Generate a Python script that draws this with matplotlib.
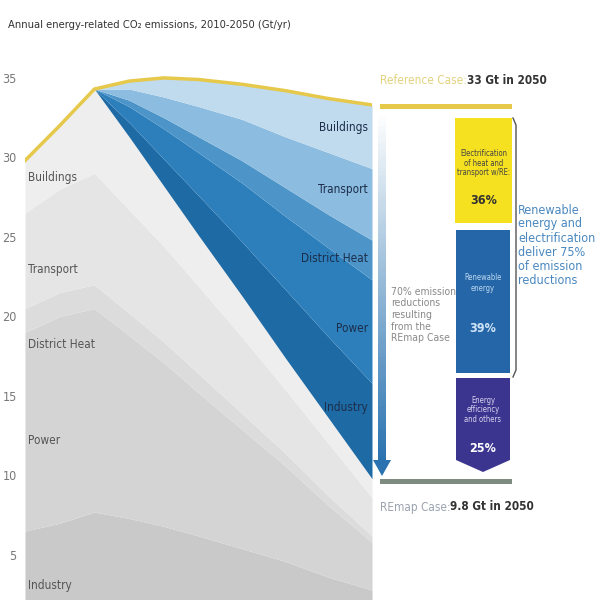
import matplotlib
matplotlib.use("Agg")
import matplotlib.pyplot as plt
import numpy as np
from matplotlib.patches import Rectangle, Polygon

plt.rcParams['font.family'] = ['DejaVu Sans']
plt.rcParams['font.stretch'] = 'condensed'

years = [2010, 2014, 2018, 2022, 2026, 2030, 2035, 2040, 2045, 2050]
reference = [29.8, 32.0, 34.3, 34.8, 35.0, 34.9, 34.6, 34.2, 33.7, 33.3]
gray_sectors = ["Industry", "Power", "District Heat", "Transport", "Buildings"]
gray_industry = [6.5, 7.0, 7.7, 7.3, 6.8, 6.2, 5.4, 4.6, 3.6, 2.8]
gray_power = [12.5, 13.0, 12.8, 11.5, 10.3, 9.0, 7.5, 6.0, 4.5, 3.0]
gray_dh = [1.5, 1.5, 1.5, 1.4, 1.3, 1.2, 1.0, 0.8, 0.6, 0.4]
gray_transport = [6.0, 6.5, 7.0, 6.5, 6.0, 5.5, 4.8, 4.0, 3.3, 2.4]
gray_buildings = [3.3, 4.0, 5.3, 4.6, 3.8, 3.2, 2.6, 2.0, 1.6, 1.2]
save_industry = [0, 0, 0, 0.9, 1.7, 2.5, 3.4, 4.3, 5.1, 6.0]
save_power = [0, 0, 0, 1.0, 1.9, 2.7, 3.7, 4.6, 5.6, 6.5]
save_dh = [0, 0, 0, 0.4, 0.7, 1.0, 1.4, 1.8, 2.1, 2.5]
save_transport = [0, 0, 0, 0.7, 1.3, 1.9, 2.6, 3.2, 3.9, 4.5]
save_buildings = [0, 0, 0, 0.5, 1.2, 1.7, 2.2, 2.9, 3.4, 4.0]
yticks = [5, 10, 15, 20, 25, 30, 35]

fig = plt.figure(figsize=(6, 6), dpi=100)
ax = fig.add_axes([25/600, 0, 347/600, 1])
ax.set_xlim(2010, 2050)
ax.set_ylim(2.17, 39.9)
for s in ax.spines.values():
    s.set_visible(False)
ax.set_xticks([])
ax.set_yticks(yticks)
ax.tick_params(axis='y', length=0, pad=6, labelsize=9, labelcolor='#777777')

gcols = ['#c9c9c9', '#d4d4d4', '#dcdcdc', '#e5e5e5', '#eeeeee']
bcols = ['#1e6aa5', '#2d7fbb', '#4d95c9', '#8cbde0', '#c0dbee']
base = np.zeros(len(years))
for vals, c in zip([gray_industry, gray_power, gray_dh, gray_transport, gray_buildings], gcols):
    top = base + np.array(vals)
    ax.fill_between(years, base, top, color=c, lw=0)
    base = top
for vals, c in zip([save_industry, save_power, save_dh, save_transport, save_buildings], bcols):
    top = base + np.array(vals)
    ax.fill_between(years, base, top, color=c, lw=0)
    base = top
ax.plot(years, reference, color='#e6c84a', lw=2.5)

ov = fig.add_axes([0, 0, 1, 1], facecolor='none')
ov.set_xlim(0, 600); ov.set_ylim(600, 0); ov.axis('off')

ov.text(8, 25, "Annual energy-related CO\u2082 emissions, 2010-2050 (Gt/yr)", fontsize=8, color='#333333', va='center')
for t, y in zip(gray_sectors, [585, 440, 345, 270, 178]):
    ov.text(28, y, t, fontsize=8.5, color='#555555', va='center')
for t, y in zip(gray_sectors, [407, 328, 258, 190, 128]):
    ov.text(368, y, t, fontsize=8.5, color='#1c2d4a', va='center', ha='right')

ov.text(380, 80, "Reference Case:", fontsize=8.5, color='#e3d27f', va='center')
ov.text(467, 80, "33 Gt in 2050", fontsize=8.5, color='#333333', va='center', fontweight='bold')
ov.add_patch(Rectangle((380, 104), 132, 5, color='#e6c84a', lw=0))

grad = np.linspace(0, 1, 100).reshape(-1, 1)
ov.imshow(grad, extent=(378, 386, 462, 112), cmap=matplotlib.colors.LinearSegmentedColormap.from_list('g', ['#ffffff', '#2a73b0']), aspect='auto', zorder=2, origin='upper')
ov.add_patch(Polygon([(373, 460), (391, 460), (382, 476)], color='#2a73b0', lw=0))
ov.set_xlim(0, 600); ov.set_ylim(600, 0)
ov.text(391, 315, "70% emission\nreductions\nresulting\nfrom the\nREmap Case", fontsize=7.5, color='#8a8a8a', va='center', linespacing=1.2)

ov.add_patch(Rectangle((455, 118), 57, 105, color='#f5e11f', lw=0))
ov.text(483.5, 163, "Electrification\nof heat and\ntransport w/RE:", fontsize=5.5, color='#444444', ha='center', va='center', linespacing=1.1)
ov.text(483.5, 200, "36%", fontsize=9, color='#333333', ha='center', va='center', fontweight='bold')
ov.add_patch(Rectangle((456, 230), 54, 143, color='#2566a8', lw=0))
ov.text(483, 283, "Renewable\nenergy", fontsize=5.5, color='#bcd8f0', ha='center', va='center')
ov.text(483, 328, "39%", fontsize=9, color='#cfe4f7', ha='center', va='center', fontweight='bold')
ov.add_patch(Polygon([(456, 378), (510, 378), (510, 460), (483, 472), (456, 460)], color='#3c358f', lw=0))
ov.text(483, 410, "Energy\nefficiency\nand others", fontsize=5.5, color='#d8d4f0', ha='center', va='center', linespacing=1.1)
ov.text(483, 448, "25%", fontsize=9, color='#ffffff', ha='center', va='center', fontweight='bold')

ov.plot([513, 516, 516, 513], [118, 125, 370, 377], color='#555555', lw=1)
ov.text(518, 245, "Renewable\nenergy and\nelectrification\ndeliver 75%\nof emission\nreductions", fontsize=9, color='#4a88bf', va='center', linespacing=1.1)

ov.add_patch(Rectangle((380, 479), 132, 5, color='#7e8b80', lw=0))
ov.text(380, 507, "REmap Case:", fontsize=8.5, color='#9aa3b0', va='center')
ov.text(450, 507, "9.8 Gt in 2050", fontsize=8.5, color='#333333', va='center', fontweight='bold')

fig.savefig("out.png", dpi=100)
